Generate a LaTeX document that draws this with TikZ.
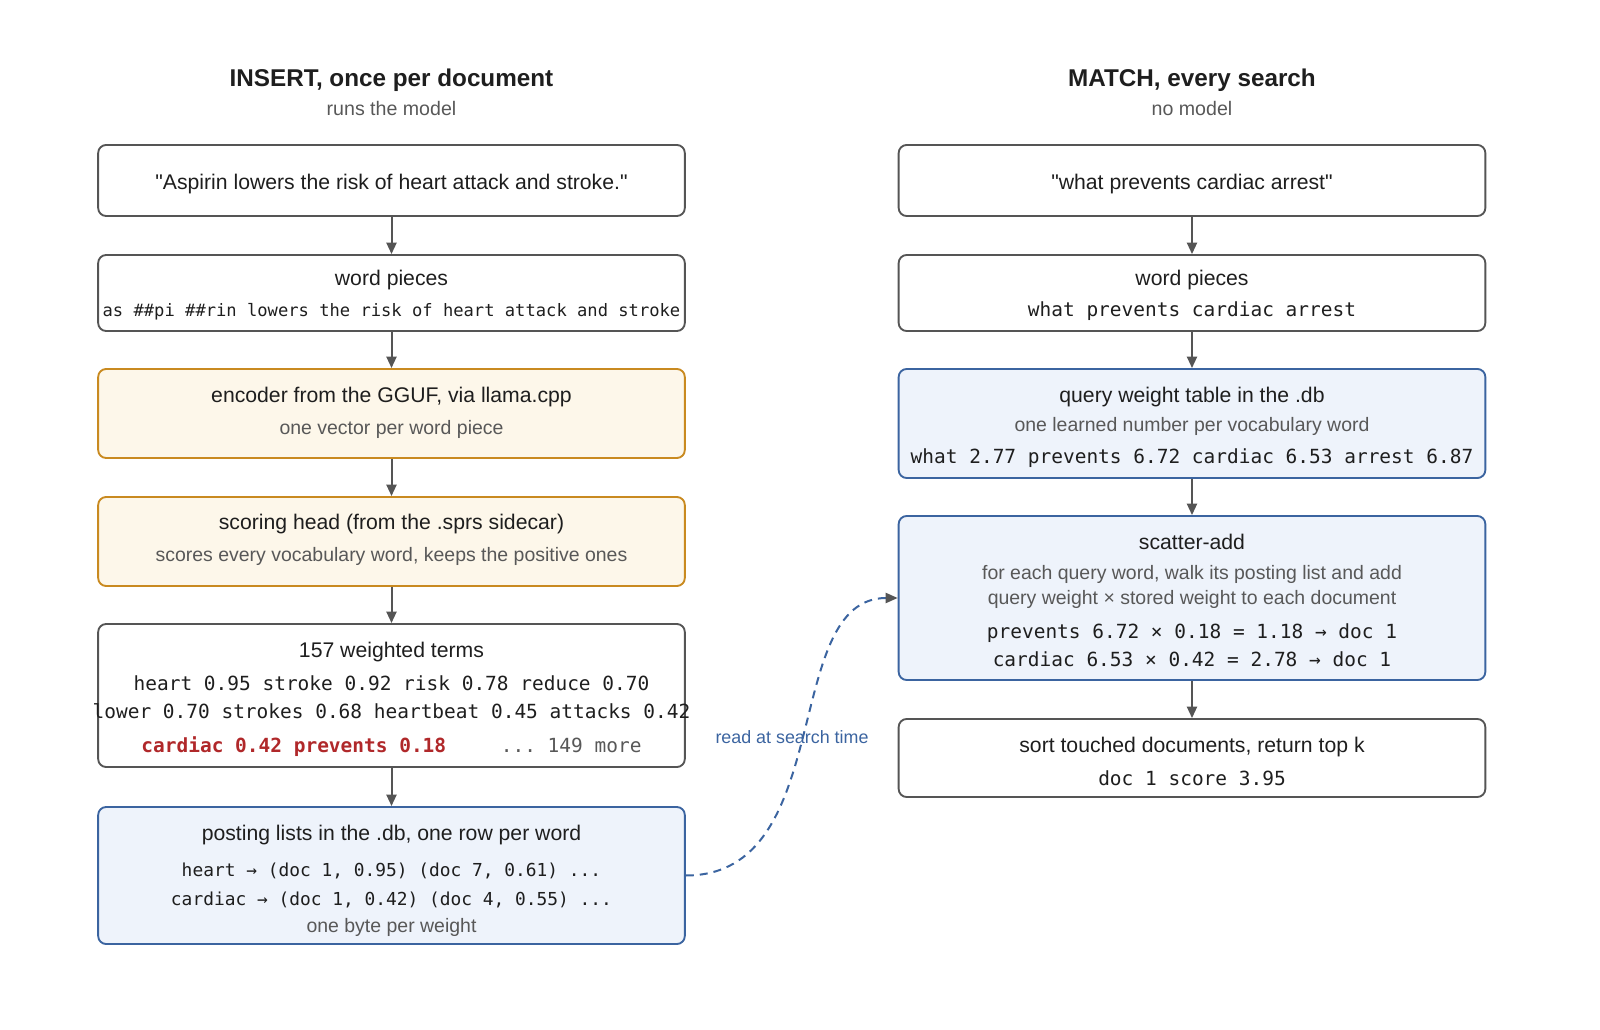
\documentclass[tikz,border=0pt]{standalone}
\usepackage{fontspec}
\setmainfont{Liberation Sans}
\setmonofont{DejaVu Sans Mono}
\usetikzlibrary{arrows.meta}

\definecolor{textdark}{HTML}{1E1E1E}
\definecolor{textgray}{HTML}{585858}
\definecolor{boxgray}{HTML}{555555}
\definecolor{modelline}{HTML}{C98A20}
\definecolor{modelfill}{HTML}{FDF7EA}
\definecolor{dbline}{HTML}{3B64A0}
\definecolor{dbfill}{HTML}{EEF3FB}
\definecolor{termred}{HTML}{B0282A}

\begin{document}
\begin{tikzpicture}[x=0.75pt,y=-0.75pt]
        % Define styles
        \tikzset{
            box/.style={rectangle, rounded corners=6pt, draw=boxgray, line width=1.4pt, minimum width=440pt, inner sep=0pt},
            modelbox/.style={box, draw=modelline, fill=modelfill},
            dbbox/.style={box, draw=dbline, fill=dbfill},
            label/.style={anchor=mid, inner sep=0pt, yshift=-3pt},
            heading/.style={label, yshift=-0.8pt, text=textdark, font=\bfseries\fontsize{18.2}{22}\selectfont},
            subhead/.style={label, text=textgray, font=\fontsize{14.7}{18}\selectfont},
            body/.style={label, text=textdark, font=\fontsize{15.9}{19}\selectfont},
            note/.style={label, yshift=0.6pt, text=textgray, font=\fontsize{14.6}{18}\selectfont},
            monobig/.style={label, text=textdark, font=\ttfamily\fontsize{14.6}{18}\selectfont},
            monomid/.style={label, text=textdark, font=\ttfamily\fontsize{13.4}{16}\selectfont},
            monosmall/.style={label, text=textdark, font=\ttfamily\fontsize{12.85}{15}\selectfont},
            arrow/.style={-{Triangle[length=8.5pt,width=7.5pt]}, line width=1.5pt, draw=boxgray},
            readarrow/.style={-{Triangle[length=9pt,width=7.5pt,color=boxgray]}, line width=1.5pt, draw=dbline, dash pattern=on 6pt off 4.5pt}
        }
        \useasboundingbox (0,0) rectangle (1600,1030);

        % Headings
        \node[heading] (insert_title) at (391.5,77.6) {INSERT, once per document};
        \node[subhead] (insert_sub) at (391.5,108.2) {runs the model};
        \node[heading] (match_title) at (1192,77.6) {MATCH, every search};
        \node[subhead] (match_sub) at (1192,108.2) {no model};

        % Insert side
        \node[box, minimum height=53.3pt] (doc_box) at (391.5,180.5) {};
        \node[body] (doc_text) at (391.5,181.6) {\textquotedbl Aspirin lowers the risk of heart attack and stroke.\textquotedbl};

        \node[box, minimum height=57pt] (doc_pieces_box) at (391.5,293) {};
        \node[body] (doc_pieces_title) at (391.5,277.6) {word pieces};
        \node[monosmall] (doc_pieces_text) at (391.5,309.2) {as \#\#pi \#\#rin lowers the risk of heart attack and stroke};

        \node[modelbox, minimum height=66.8pt] (encoder_box) at (391.5,413.5) {};
        \node[body] (encoder_title) at (391.5,394.9) {encoder from the GGUF, via llama.cpp};
        \node[note] (encoder_note) at (391.5,427.6) {one vector per word piece};

        \node[modelbox, minimum height=66.8pt] (head_box) at (391.5,541.5) {};
        \node[body] (head_title) at (391.5,522.4) {scoring head (from the .sprs sidecar)};
        \node[note] (head_note) at (391.5,555.1) {scores every vocabulary word, keeps the positive ones};

        \node[box, minimum height=107.3pt] (terms_box) at (391.5,695.5) {};
        \node[body] (terms_title) at (391.5,650) {157 weighted terms};
        \node[monobig] (terms_line_1) at (391.5,682.6) {heart 0.95 stroke 0.92 risk 0.78 reduce 0.70};
        \node[monobig] (terms_line_2) at (391.5,711.2) {lower 0.70 strokes 0.68 heartbeat 0.45 attacks 0.42};
        \node[monobig] (terms_line_3) at (391.5,744.9) {\textcolor{termred}{\bfseries cardiac 0.42 prevents 0.18}\hspace{41pt}\textcolor{textgray}{... 149 more}};

        \node[dbbox, minimum height=102.8pt] (posting_box) at (391.5,875.5) {};
        \node[body] (posting_title) at (391.5,832.7) {posting lists in the .db, one row per word};
        \node[monomid] (posting_line_1) at (391.5,869.4) {heart → (doc 1, 0.95) (doc 7, 0.61) ...};
        \node[monomid] (posting_line_2) at (391.5,898) {cardiac → (doc 1, 0.42) (doc 4, 0.55) ...};
        \node[note] (posting_note) at (391.5,925.5) {one byte per weight};

        % Match side
        \node[box, minimum height=53.3pt] (query_box) at (1192,180.5) {};
        \node[body] (query_text) at (1192,181.6) {\textquotedbl what prevents cardiac arrest\textquotedbl};

        \node[box, minimum height=57pt] (query_pieces_box) at (1192,293) {};
        \node[body] (query_pieces_title) at (1192,277.6) {word pieces};
        \node[monobig] (query_pieces_text) at (1192,309.2) {what prevents cardiac arrest};

        \node[dbbox, minimum height=81.8pt] (weight_box) at (1192,423.5) {};
        \node[body] (weight_title) at (1192,394.9) {query weight table in the .db};
        \node[note] (weight_note) at (1192,424.5) {one learned number per vocabulary word};
        \node[monobig] (weight_line) at (1192,456.1) {what 2.77 prevents 6.72 cardiac 6.53 arrest 6.87};

        \node[dbbox, minimum height=123pt] (scatter_box) at (1192,598) {};
        \node[body] (scatter_title) at (1192,541.8) {scatter-add};
        \node[note] (scatter_note_1) at (1192,572.4) {for each query word, walk its posting list and add};
        \node[note] (scatter_note_2) at (1192,598) {query weight × stored weight to each document};
        \node[monobig] (scatter_line_1) at (1192,630.6) {prevents 6.72 × 0.18 = 1.18 → doc 1};
        \node[monobig] (scatter_line_2) at (1192,659.2) {cardiac 6.53 × 0.42 = 2.78 → doc 1};

        \node[box, minimum height=58.5pt] (sort_box) at (1192,758) {};
        \node[body] (sort_title) at (1192,744.9) {sort touched documents, return top k};
        \node[monobig] (sort_line) at (1192,777.6) {doc 1 score 3.95};

        % Arrows
        \draw[arrow] (doc_box) -- (doc_pieces_box);
        \draw[arrow] (doc_pieces_box) -- (encoder_box);
        \draw[arrow] (encoder_box) -- (head_box);
        \draw[arrow] (head_box) -- (terms_box);
        \draw[arrow] (terms_box) -- (posting_box);
        \draw[arrow] (query_box) -- (query_pieces_box);
        \draw[arrow] (query_pieces_box) -- (weight_box);
        \draw[arrow] (weight_box) -- (scatter_box);
        \draw[arrow] (scatter_box) -- (sort_box);

        % Read link
        \draw[readarrow] (posting_box.east) .. controls +(152,0) and +(-118,0) .. (scatter_box.west);
        \node[anchor=mid, inner sep=0pt, yshift=-2pt, text=dbline, font=\fontsize{13.4}{16}\selectfont] (read_label) at (792,737) {read at search time};
\end{tikzpicture}
\end{document}
